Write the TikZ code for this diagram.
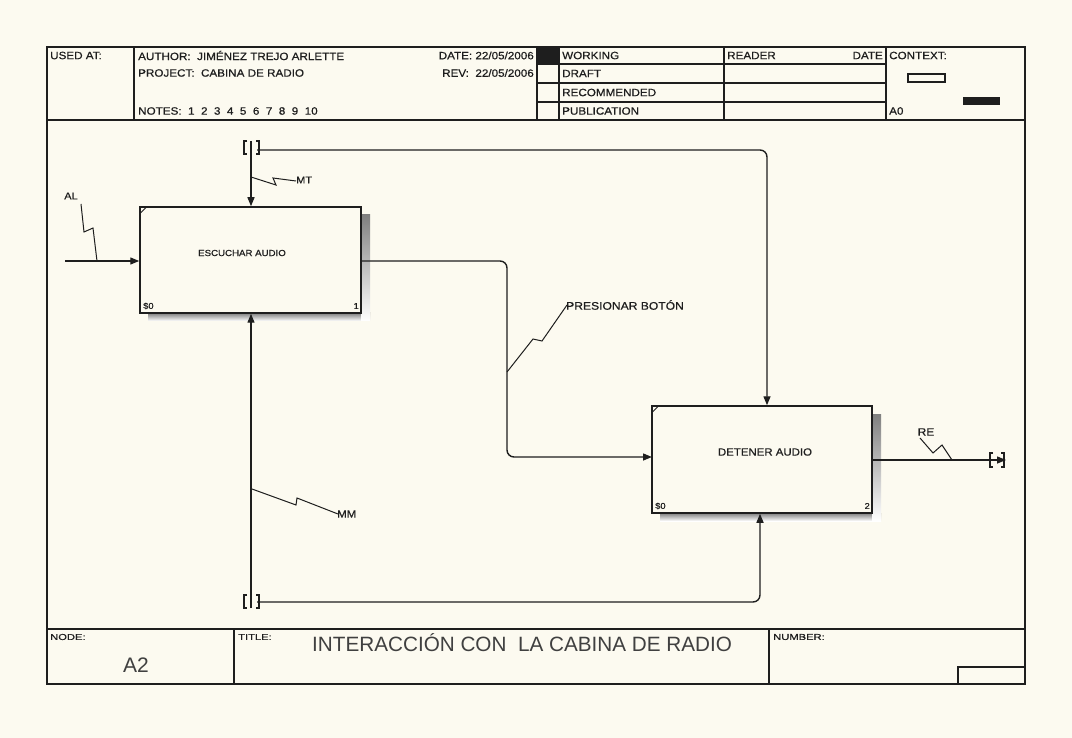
\documentclass[tikz,border=0pt]{standalone}
\usepackage{fontspec}
\setmainfont{Liberation Sans}
\newfontfamily\wide{Liberation Sans}[FakeStretch=1.1,FakeBold=0.6]
\newfontfamily\vwide{Liberation Sans}[FakeStretch=1.3,FakeBold=0.6]
\usetikzlibrary{arrows.meta}
\definecolor{bg}{RGB}{252,250,240}
\definecolor{ink}{RGB}{30,30,30}
\definecolor{shade}{RGB}{135,135,135}
\tikzset{
  frameline/.style={draw=ink, line width=1.3pt},
  hdr/.style={font=\wide\fontsize{10.6}{12}\selectfont, text=ink, inner sep=0pt},
  tiny/.style={font=\vwide\fontsize{8.6}{10}\selectfont, text=ink, inner sep=0pt},
  fnbox/.style={draw=ink, line width=1.5pt, fill=bg, inner sep=0pt},
  conn/.style={draw=ink, line width=1.4pt},
  arr/.style={conn, -{Triangle[length=9pt,width=7pt]}},
  squig/.style={draw=ink, line width=1pt},
  lbl/.style={font=\wide\fontsize{10}{12}\selectfont, text=ink, inner sep=0pt},
  corner/.style={font=\wide\fontsize{8.5}{10}\selectfont, text=ink, inner sep=0pt},
  brk/.style={draw=ink, line width=1.1pt},
}
\begin{document}
\begin{tikzpicture}[x=1pt,y=-1pt]
\fill[bg] (0,0) rectangle (1072,738);
\useasboundingbox (0,0) rectangle (1072,738);

% ---------- frame and header ----------
\draw[frameline] (47,47) rectangle (1025,684);
\draw[frameline] (47,120) -- (1025,120);
\draw[frameline] (134,47) -- (134,120);
\draw[frameline] (537,47) -- (537,120);
\draw[frameline] (559,47) -- (559,120);
\draw[frameline] (724,47) -- (724,120);
\draw[frameline] (886,47) -- (886,120);
\draw[frameline] (537,64) -- (886,64);
\draw[frameline] (537,83) -- (886,83);
\draw[frameline] (537,102) -- (886,102);
\fill[ink] (537,47) rectangle (559,64);
\draw[ink, line width=1.1pt] (908,74) rectangle (945,82);
\fill[ink] (963,97) rectangle (1000,105);

\node[hdr, anchor=west] (usedat) at (50,55.5) {USED AT:};
\node[hdr, anchor=west] (author) at (138,55.5) {AUTHOR:~~JIMÉNEZ TREJO ARLETTE};
\node[hdr, anchor=west] (project) at (138,73) {PROJECT:~~CABINA DE RADIO};
\node[hdr, anchor=west] (notes) at (138,111) {NOTES:~~1~~2~~3~~4~~5~~6~~7~~8~~9~~10};
\node[hdr, anchor=east] (date) at (534,55.5) {DATE: 22/05/2006};
\node[hdr, anchor=east] (rev) at (534,73) {REV:~~22/05/2006};
\node[hdr, anchor=west] (working) at (562,55.5) {WORKING};
\node[hdr, anchor=west] (draft) at (562,73.5) {DRAFT};
\node[hdr, anchor=west] (recom) at (562,92.5) {RECOMMENDED};
\node[hdr, anchor=west] (publ) at (562,111) {PUBLICATION};
\node[hdr, anchor=west] (reader) at (727,55.5) {READER};
\node[hdr, anchor=east] (rdate) at (883,55.5) {DATE};
\node[hdr, anchor=west] (context) at (889,55.5) {CONTEXT:};
\node[hdr, anchor=west] (a0) at (889,111) {A0};

% ---------- footer ----------
\draw[frameline] (47,629) -- (1025,629);
\draw[frameline] (234,629) -- (234,684);
\draw[frameline] (769,629) -- (769,684);
\draw[frameline] (958,684) -- (958,667) -- (1025,667);
\node[tiny, anchor=west] (nodel) at (50,637) {NODE:};
\node[font=\fontsize{21}{24}\selectfont, text=ink!85, inner sep=0pt] (a2) at (136,665) {A2};
\node[tiny, anchor=west] (titlel) at (238,637) {TITLE:};
\node[font=\fontsize{20.7}{24}\selectfont, text=ink!85, inner sep=0pt, anchor=west] (title) at (312,643) {INTERACCIÓN CON~~LA CABINA DE RADIO};
\node[tiny, anchor=west] (numberl) at (773,637) {NUMBER:};

% ---------- activity boxes ----------
\fill[shade] (148,313) rectangle (370,321);
\fill[shade] (361,215) rectangle (370,321);
\fill[shade] (660,513) rectangle (881,521);
\fill[shade] (872,414) rectangle (881,521);

\node[fnbox, minimum width=221pt, minimum height=106pt] (b1) at (250.5,260) {};
\node[fnbox, minimum width=220pt, minimum height=107pt] (b2) at (762,459.5) {};
\draw[ink, line width=0.8pt] (140.5,213) -- (146.5,207);
\draw[ink, line width=0.8pt] (652.5,412) -- (658.5,406);

\node[font=\wide\fontsize{8.8}{10}\selectfont, text=ink, inner sep=0pt] (t1) at (242,253) {ESCUCHAR AUDIO};
\node[font=\wide\fontsize{10.4}{12}\selectfont, text=ink, inner sep=0pt] (t2) at (765,452) {DETENER AUDIO};
\node[corner, anchor=west] (s1) at (143,306) {\$0};
\node[corner, anchor=east] (n1) at (359,306) {1};
\node[corner, anchor=west] (s2) at (655,506) {\$0};
\node[corner, anchor=east] (n2) at (870,506) {2};

% ---------- connectors ----------
\coordinate (alS) at (65,261);
\draw[arr] (alS) -- (alS -| b1.west);

\coordinate (mtT) at (251,141);
\draw[arr] (mtT) -- (mtT |- b1.north);
\coordinate (mtR) at (257,150);
\coordinate (b2c) at ([xshift=5pt]b2.north);
\draw[arr, rounded corners=7pt] (mtR) -| (b2c);

\coordinate (mmB) at (251,608);
\draw[arr] (mmB) -- (mmB |- b1.south);
\coordinate (mmR) at (257,602);
\coordinate (b2m) at ([xshift=-2pt]b2.south);
\draw[arr, rounded corners=7pt] (mmR) -| (b2m);

\coordinate (b1o) at (361,261);
\coordinate (pbt) at (507,457);
\coordinate (b2i) at (652,457);
\draw[arr, rounded corners=7pt] (b1o) -| (pbt) -- (b2i);

\coordinate (b2o) at (872,460);
\coordinate (reE) at (1006,460);
\draw[arr] (b2o) -- (reE);

% ---------- tunnel brackets ----------
\draw[brk] (247,141) -- (244,141) -- (244,154) -- (247,154);
\draw[brk] (256,141) -- (259,141) -- (259,154) -- (256,154);
\draw[brk] (247,595) -- (244,595) -- (244,608) -- (247,608);
\draw[brk] (256,595) -- (259,595) -- (259,608) -- (256,608);
\draw[brk] (993,453) -- (990,453) -- (990,467) -- (993,467);
\draw[brk] (1001,453) -- (1004,453) -- (1004,467) -- (1001,467);

% ---------- labels with squiggles ----------
\node[lbl] (al) at (71,196) {AL};
\draw[squig] (81,204) -- (84,232) -- (93,228) -- (97,261);

\node[lbl, anchor=west] (mt) at (296,180) {MT};
\draw[squig] (251,177) -- (276,185) -- (273,178) -- (296,181);

\node[lbl, anchor=west, font=\wide\fontsize{10.4}{12}\selectfont] (mm) at (337,514) {MM};
\draw[squig] (252,489) -- (296,505) -- (297,498) -- (338,514);

\node[lbl, anchor=west, font=\wide\fontsize{11}{12}\selectfont] (pb) at (566,305) {PRESIONAR BOTÓN};
\draw[squig] (507,372) -- (533,339) -- (542,341) -- (567,305);

\node[lbl, font=\wide\fontsize{10.8}{12}\selectfont] (re) at (926,432) {RE};
\draw[squig] (920,438) -- (933,453) -- (942,445) -- (952,460);
\end{tikzpicture}
\end{document}
